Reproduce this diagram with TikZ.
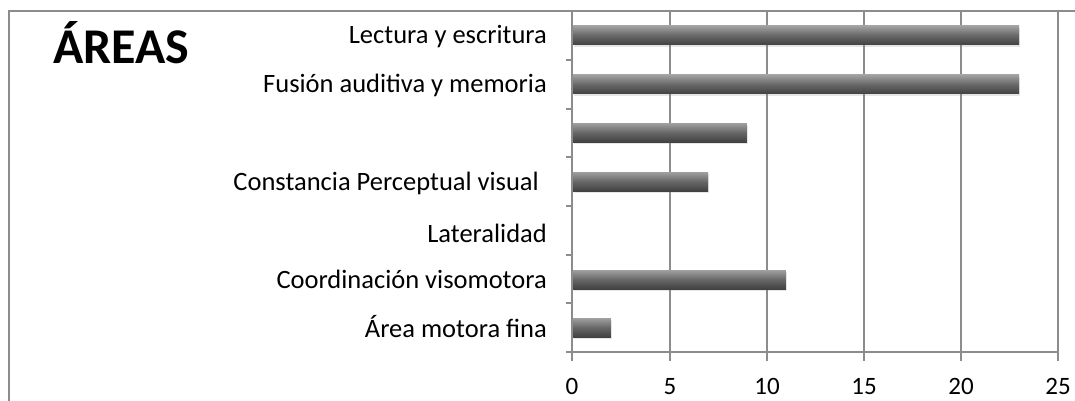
\documentclass[tikz,border=0pt]{standalone}
\usepackage{fontspec}
\setmainfont{Carlito}
\usepackage{xcolor}
\definecolor{gris}{RGB}{140,140,140}
\definecolor{oscuro}{RGB}{65,65,65}
\definecolor{claro}{RGB}{160,160,160}
\usepackage{tikz}
\usetikzlibrary{positioning,shadows}
\tikzset{
    marco/.style={draw=gris, line width=2pt},
    rejilla/.style={draw=gris, line width=1.3pt},
    barra/.style={top color=claro, bottom color=oscuro, middle color=oscuro!80!white,
      drop shadow={opacity=0.2, shadow xshift=1pt, shadow yshift=-2pt}},
    etiqueta/.style={anchor=base east, inner sep=0pt, font=\fontsize{26.5}{30}\selectfont},
    numero/.style={anchor=base, inner sep=0pt, font=\fontsize{25}{29}\selectfont},
    titulo/.style={anchor=base west, inner sep=0pt, font=\fontsize{50}{56}\selectfont\bfseries},
}
\begin{document}
\begin{tikzpicture}[x=1pt, y=-1pt]
   \useasboundingbox (0,0) rectangle (1075,401);
   % marco
   \draw[marco] (9,401) -- (9,11) -- (1075,11);
   % rejilla
   \draw[rejilla] (670,11) -- (670,361);
   \draw[rejilla] (767,11) -- (767,361);
   \draw[rejilla] (864,11) -- (864,361);
   \draw[rejilla] (961,11) -- (961,361);
   \draw[rejilla] (1058,11) -- (1058,361);
   \draw[rejilla] (572,11) -- (572,361);
   \draw[rejilla] (566,352) -- (1058,352);
   \draw[rejilla] (566,60) -- (572,60);
   \draw[rejilla] (566,109) -- (572,109);
   \draw[rejilla] (566,157) -- (572,157);
   \draw[rejilla] (566,206) -- (572,206);
   \draw[rejilla] (566,255) -- (572,255);
   \draw[rejilla] (566,303) -- (572,303);

   \node[titulo] (T) at (53,64) {ÁREAS};

   \node[etiqueta] (L1) at (547,44) {Lectura y escritura};
   \node[etiqueta] (L2) at (547,93) {Fusión auditiva y memoria};
   \node[etiqueta] (L4) at (539,190) {Constancia Perceptual visual};
   \node[etiqueta] (L5) at (547,242) {Lateralidad};
   \node[etiqueta] (L6) at (547,288) {Coordinación visomotora};
   \node[etiqueta] (L7) at (547,337) {Área motora fina};

   \node[numero] (n0) at (572,394) {0};
   \node[numero] (n5) at (670,394) {5};
   \node[numero] (n10) at (767,394) {10};
   \node[numero] (n15) at (864,394) {15};
   \node[numero] (n20) at (961,394) {20};
   \node[numero] (n25) at (1058,394) {25};

   % barras
   \shade[barra] (573,26) rectangle (572+23*19.44,45);
   \shade[barra] (573,75) rectangle (572+23*19.44,94);
   \shade[barra] (573,123) rectangle (572+9*19.44,142);
   \shade[barra] (573,172) rectangle (572+7*19.44,191);
   \shade[barra] (573,270) rectangle (572+11*19.44,289);
   \shade[barra] (573,318) rectangle (572+2*19.44,337);
\end{tikzpicture}
\end{document}
